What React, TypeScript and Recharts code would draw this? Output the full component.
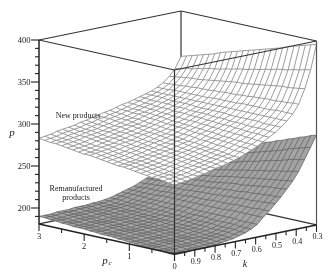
import * as React from 'react';
import { ScatterChart, Scatter, XAxis, YAxis } from 'recharts';

// ============================================================================
// Data (rows follow kValues, columns follow pcValues)
// ============================================================================

const pcValues = [
  3, 2.875, 2.75, 2.625, 2.5, 2.375, 2.25, 2.125, 2, 1.875, 1.75, 1.625, 1.5, 1.375, 1.25, 1.125, 1,
  0.875, 0.75, 0.625, 0.5, 0.375, 0.25, 0.125, 0,
];
const kValues = [
  1, 0.971, 0.942, 0.913, 0.883, 0.854, 0.825, 0.796, 0.767, 0.738, 0.708, 0.679, 0.65, 0.621, 0.592,
  0.563, 0.533, 0.504, 0.475, 0.446, 0.417, 0.388, 0.358, 0.329, 0.3,
];

const newProductPrices = [
  [283,282,281,281,280,279,278,277,276,276,275,274,273,272,271,271,270,269,268,267,266,266,265,264,263],
  [284,283,282,282,281,280,279,278,277,277,276,275,274,273,272,272,271,270,269,268,267,267,266,265,264],
  [285,284,283,283,282,281,280,279,278,278,277,276,275,274,273,273,272,271,270,269,268,268,267,266,265],
  [287,286,285,284,283,282,281,280,280,279,278,277,276,275,274,274,273,272,271,270,269,268,268,267,266],
  [288,287,286,285,285,284,283,282,281,280,279,278,278,277,276,275,274,273,272,272,271,270,269,268,268],
  [289,288,287,287,286,285,284,283,282,282,281,280,279,278,277,277,276,275,274,273,272,272,271,270,269],
  [290,289,288,288,287,286,285,285,284,283,282,281,281,280,279,278,277,277,276,275,274,273,273,272,271],
  [292,291,290,289,288,288,287,286,285,284,284,283,282,281,280,280,279,278,277,276,276,275,274,273,273],
  [293,292,291,291,290,289,288,288,287,286,285,284,284,283,282,281,280,280,279,278,277,276,276,275,274],
  [295,294,293,292,291,291,290,289,288,288,287,286,285,284,284,283,282,281,281,280,279,278,278,277,276],
  [296,295,295,294,293,292,292,291,290,289,289,288,287,286,286,285,284,283,283,282,281,280,280,279,278],
  [298,297,296,295,295,294,293,292,292,291,290,289,289,288,287,286,286,285,284,283,283,282,281,280,280],
  [299,298,298,297,296,296,295,294,294,293,292,292,291,290,290,289,288,288,287,286,286,285,284,284,283],
  [301,300,300,299,299,298,297,297,296,295,295,294,294,293,292,292,291,290,290,289,289,288,287,287,286],
  [303,302,301,301,300,300,299,299,298,297,297,296,296,295,295,294,294,293,292,292,291,291,290,290,289],
  [304,304,303,303,302,302,301,301,300,300,299,299,299,298,298,297,297,296,296,295,295,294,294,293,293],
  [306,306,305,305,304,304,304,303,303,303,302,302,302,301,301,300,300,300,299,299,298,298,298,297,297],
  [308,308,307,307,307,307,306,306,306,305,305,305,305,304,304,304,303,303,303,302,302,302,302,301,301],
  [310,310,310,310,309,309,309,309,309,308,308,308,308,308,308,307,307,307,307,307,307,306,306,306,306],
  [312,312,312,312,312,312,312,312,312,312,312,312,312,312,312,312,312,312,312,312,312,312,312,312,312],
  [315,315,315,316,316,316,316,316,316,316,317,317,317,317,317,318,318,318,318,318,318,319,319,319,319],
  [319,319,320,320,321,321,322,322,322,323,323,324,324,324,325,325,326,326,327,327,327,328,328,329,329],
  [325,326,327,328,329,329,330,331,332,333,334,335,336,336,337,338,339,340,341,342,343,343,344,345,346],
  [333,334,336,337,339,340,342,343,344,346,347,349,350,351,353,354,356,357,359,360,361,363,364,366,367],
  [346,348,350,352,354,356,358,361,363,365,367,369,371,373,375,377,379,381,383,386,388,390,392,394,396],
];

const remanufacturedPrices = [
  [190,190,189,189,188,188,187,187,187,186,186,185,185,185,184,184,183,183,182,182,182,181,181,180,180],
  [190,190,189,189,188,188,187,187,187,186,186,185,185,185,184,184,183,183,182,182,182,181,181,180,180],
  [190,190,189,189,188,188,187,187,187,186,186,185,185,185,184,184,183,183,182,182,182,181,181,180,180],
  [191,191,190,190,189,189,188,188,188,187,187,186,186,186,185,185,184,184,183,183,183,182,182,181,181],
  [191,191,190,190,189,189,188,188,188,187,187,186,186,186,185,185,184,184,183,183,183,182,182,181,181],
  [191,191,190,190,189,189,188,188,188,187,187,186,186,186,185,185,184,184,183,183,183,182,182,181,181],
  [192,192,191,191,190,190,189,189,189,188,188,187,187,187,186,186,185,185,184,184,184,183,183,182,182],
  [192,192,191,191,190,190,189,189,189,188,188,187,187,187,186,186,185,185,184,184,184,183,183,182,182],
  [192,192,191,191,191,190,190,189,189,189,188,188,188,187,187,186,186,186,185,185,184,184,184,183,183],
  [193,193,192,192,192,191,191,190,190,190,189,189,189,188,188,187,187,187,186,186,185,185,185,184,184],
  [193,193,192,192,192,191,191,191,190,190,190,189,189,189,188,188,188,187,187,187,186,186,186,185,185],
  [194,194,193,193,193,193,192,192,192,191,191,191,191,190,190,190,189,189,189,188,188,188,188,187,187],
  [195,195,195,194,194,194,194,193,193,193,193,192,192,192,192,191,191,191,191,190,190,190,190,189,189],
  [197,197,197,196,196,196,196,196,195,195,195,195,195,194,194,194,194,193,193,193,193,193,192,192,192],
  [199,199,199,199,199,198,198,198,198,198,198,198,198,197,197,197,197,197,197,197,197,196,196,196,196],
  [201,201,201,201,201,201,202,202,202,202,202,202,202,202,202,202,202,202,203,203,203,203,203,203,203],
  [203,203,204,204,204,204,205,205,205,205,206,206,206,206,207,207,207,207,208,208,208,208,209,209,209],
  [206,206,207,207,208,208,209,209,209,210,210,211,211,211,212,212,213,213,214,214,214,215,215,216,216],
  [209,210,210,211,211,212,213,213,214,214,215,215,216,217,217,218,218,219,220,220,221,221,222,222,223],
  [211,212,213,214,214,215,216,217,218,219,219,220,221,222,223,224,224,225,226,227,228,229,229,230,231],
  [214,215,216,217,218,219,220,221,222,223,224,225,227,228,229,230,231,232,233,234,235,236,237,238,239],
  [217,218,220,221,222,224,225,226,228,229,230,232,233,234,236,237,238,240,241,242,244,245,246,248,249],
  [220,222,224,225,227,229,231,232,234,236,238,239,241,243,245,246,248,250,252,253,255,257,259,260,262],
  [224,226,228,230,233,235,237,239,241,243,245,247,250,252,254,256,258,260,262,264,267,269,271,273,275],
  [229,231,234,236,239,241,244,246,249,251,254,256,259,261,263,266,268,271,273,276,278,281,283,286,288],
];

const pTicks = [
  400, 390, 380, 370, 360, 350, 340, 330, 320, 310, 300, 290, 280, 270, 260, 250, 240, 230, 220, 210, 200, 190,
];
const pLabels = [400, 350, 300, 250, 200];
const pcTicks = [3, 2.5, 2, 1.5, 1, 0.5, 0];
const pcLabels = [3, 2, 1, 0];
const kTicks = [1, 0.95, 0.9, 0.85, 0.8, 0.75, 0.7, 0.65, 0.6, 0.55, 0.5, 0.45, 0.4, 0.35, 0.3];
const kLabels = [0.9, 0.8, 0.7, 0.6, 0.5, 0.4, 0.3];

const P_FLOOR = 181;
const P_TOP = 400;

// ============================================================================
// Helper Functions
// ============================================================================

/**
 * Orthographic view of the box, (p_c, k, p) to page position
 */
function project(pc: number, k: number, p: number) {
  const alongPc = (3 - pc) / 3;
  const alongK = (1 - k) / 0.7;
  return {
    x: 39 + alongPc * 135.5 + alongK * 142,
    y: 40 + (400 - p) * 0.84 + alongPc * 30 - alongK * 29,
  };
}

function kLine(table: number[][], row: number) {
  return pcValues.map((pc, col) => project(pc, kValues[row], table[row][col]));
}

function pcLine(table: number[][], col: number) {
  return kValues.map((k, row) => project(pcValues[col], k, table[row][col]));
}

function outline(table: number[][]) {
  const last = kValues.length - 1;
  return [
    ...kLine(table, 0),
    ...pcLine(table, last),
    ...kLine(table, last).reverse(),
    ...pcLine(table, 0).reverse(),
  ];
}

function boxEdge(a: number[], b: number[]) {
  return [project(a[0], a[1], a[2]), project(b[0], b[1], b[2])];
}

const NoSymbol = () => <g />;

function TextMark(props: any) {
  const { cx, cy, payload } = props;
  return (
    <text
      x={cx}
      y={cy}
      textAnchor={payload.anchor || 'middle'}
      dominantBaseline="central"
      fontFamily="'Liberation Serif', serif"
      fontSize={payload.size || 8.5}
      fontStyle={payload.italic ? 'italic' : 'normal'}
      fill="#1a1a1a"
    >
      {payload.label}
    </text>
  );
}

function lineSeries(key: string, data: { x: number; y: number }[], stroke: string, width: number) {
  return (
    <Scatter
      key={key}
      data={data}
      shape={NoSymbol}
      line={{ stroke, strokeWidth: width, fill: 'none' }}
      isAnimationActive={false}
    />
  );
}

function surface(key: string, table: number[][], fill: string, stroke: string, width: number) {
  return [
    <Scatter
      key={`${key}-fill`}
      data={outline(table)}
      shape={NoSymbol}
      line={{ fill, stroke: 'none' }}
      isAnimationActive={false}
    />,
    ...kValues.map((_, row) => lineSeries(`${key}-k${row}`, kLine(table, row), stroke, width)),
    ...pcValues.map((_, col) => lineSeries(`${key}-pc${col}`, pcLine(table, col), stroke, width)),
  ];
}

// Tick marks hang off the box in page units, their values come from the lists above
function tickMark(key: string, at: { x: number; y: number }, dx: number, dy: number, width: number) {
  return lineSeries(key, [at, { x: at.x + dx, y: at.y + dy }], '#222', width);
}

const textMarks = [
  ...pLabels.map((p) => {
    const at = project(3, 1, p);
    return { x: at.x - 8.5, y: at.y, label: String(p), anchor: 'end' };
  }),
  ...pcLabels.map((pc) => {
    const at = project(pc, 1, P_FLOOR);
    return { x: at.x, y: at.y + 12, label: String(pc) };
  }),
  ...kLabels.map((k) => {
    const at = project(0, k, P_FLOOR);
    return { x: at.x + 1, y: at.y + 12, label: String(k), size: 8 };
  }),
  { x: 78, y: 115, label: 'New products', size: 8 },
  { x: 76, y: 188, label: 'Remanufactured', size: 8 },
  { x: 76, y: 197, label: 'products', size: 8 },
  { x: 12, y: 132, label: 'p', italic: true, size: 11 },
  { x: 105, y: 260, label: 'p', italic: true, size: 11 },
  { x: 110, y: 263, label: 'c', italic: true, size: 7 },
  { x: 245, y: 263, label: 'k', italic: true, size: 10 },
];

// ============================================================================
// Component
// ============================================================================

export default function App() {
  return (
    <div style={{ position: 'absolute', left: 0, top: 0, filter: 'blur(0.35px)' }}>
      <ScatterChart width={332} height={278} margin={{ top: 0, right: 0, bottom: 0, left: 0 }}>
        <XAxis type="number" dataKey="x" domain={[0, 332]} hide allowDataOverflow />
        <YAxis type="number" dataKey="y" domain={[0, 278]} reversed hide allowDataOverflow />

        {/* edges behind the surfaces */}
        {lineSeries('back-1', boxEdge([3, 0.3, P_TOP], [3, 0.3, P_FLOOR]), '#333', 1.2)}
        {lineSeries('back-2', boxEdge([3, 0.3, P_FLOOR], [0, 0.3, P_FLOOR]), '#333', 1.2)}
        {lineSeries('back-3', boxEdge([3, 1, P_FLOOR], [3, 0.3, P_FLOOR]), '#333', 1.2)}
        {lineSeries('back-4', boxEdge([3, 1, P_TOP], [3, 0.3, P_TOP]), '#333', 1.2)}
        {lineSeries('back-5', boxEdge([3, 0.3, P_TOP], [0, 0.3, P_TOP]), '#333', 1.2)}

        {surface('reman', remanufacturedPrices, '#a3a3a3', '#5c5c5c', 0.7)}
        {surface('new', newProductPrices, '#ffffff', '#8a8a8a', 0.85)}

        {/* edges in front of the surfaces */}
        {lineSeries('front-1', boxEdge([3, 1, P_TOP], [0, 1, P_TOP]), '#333', 1.2)}
        {lineSeries('front-2', boxEdge([0, 1, P_TOP], [0, 0.3, P_TOP]), '#333', 1.2)}
        {lineSeries('front-3', boxEdge([0, 1, P_TOP], [0, 1, P_FLOOR]), '#333', 1.2)}
        {lineSeries('front-4', boxEdge([0, 0.3, P_TOP], [0, 0.3, P_FLOOR]), '#555', 1.2)}
        {lineSeries('front-5', boxEdge([3, 1, P_TOP], [3, 1, P_FLOOR]), '#222', 1.5)}
        {lineSeries('front-6', boxEdge([3, 1, P_FLOOR], [0, 1, P_FLOOR]), '#222', 1.5)}
        {lineSeries('front-7', boxEdge([0, 1, P_FLOOR], [0, 0.3, P_FLOOR]), '#222', 1.5)}

        {pTicks.map((p) => {
          const major = pLabels.includes(p);
          return tickMark(`p-${p}`, project(3, 1, p), major ? -8 : -4, 0, 1.1);
        })}
        {pcTicks.map((pc, i) =>
          tickMark(`pc-${pc}`, project(pc, 1, P_FLOOR), 0, i % 2 === 0 ? 7 : 4, 1.1)
        )}
        {kTicks.map((k, i) =>
          tickMark(`k-${k}`, project(0, k, P_FLOOR), 0, i % 2 === 0 ? 7 : 4, 1.1)
        )}

        <Scatter data={textMarks} shape={TextMark} isAnimationActive={false} />
      </ScatterChart>
    </div>
  );
}
